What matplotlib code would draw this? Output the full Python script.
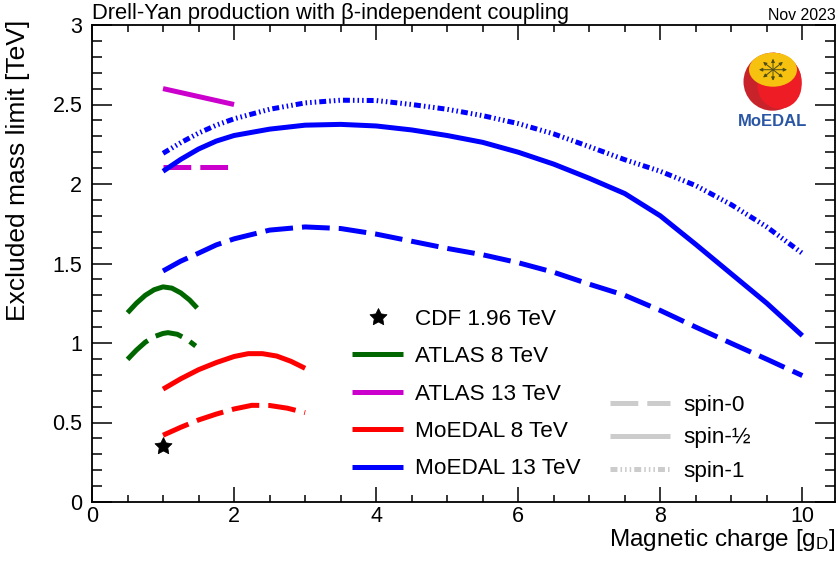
import math
import matplotlib
matplotlib.use("Agg")
import matplotlib.pyplot as plt
from matplotlib.lines import Line2D
from matplotlib.patches import Circle, Ellipse, Wedge

plt.rcParams['font.family'] = ['Liberation Sans', 'DejaVu Sans']
plt.rcParams['mathtext.fontset'] = 'custom'
plt.rcParams['mathtext.rm'] = 'Liberation Sans'
plt.rcParams['mathtext.it'] = 'Liberation Sans:italic'
plt.rcParams['lines.scale_dashes'] = False

# ---- limits [TeV] vs magnetic charge [g_D] ----
cdf_x = [1.0]
cdf_y = [0.35]

atlas8_spin0_x = [0.5, 0.625, 0.75, 0.875, 1.0, 1.07, 1.2, 1.33, 1.46]
atlas8_spin0_y = [0.897, 0.955, 1.005, 1.04, 1.06, 1.065, 1.055, 1.025, 0.981]
atlas8_spin12_x = [0.5, 0.625, 0.75, 0.875, 1.0, 1.125, 1.25, 1.375, 1.48]
atlas8_spin12_y = [1.19, 1.25, 1.30, 1.335, 1.353, 1.345, 1.315, 1.27, 1.22]

atlas13_spin0_x = [1.0, 2.0]
atlas13_spin0_y = [2.105, 2.105]
atlas13_spin12_x = [1.0, 2.0]
atlas13_spin12_y = [2.60, 2.50]

moedal8_spin0_x = [1.0, 1.25, 1.5, 1.75, 2.0, 2.25, 2.5, 2.75, 3.0]
moedal8_spin0_y = [0.42, 0.47, 0.516, 0.553, 0.585, 0.608, 0.607, 0.59, 0.562]
moedal8_spin12_x = [1.0, 1.25, 1.5, 1.75, 2.0, 2.2, 2.4, 2.6, 2.8, 3.0]
moedal8_spin12_y = [0.71, 0.775, 0.832, 0.877, 0.915, 0.933, 0.933, 0.918, 0.885, 0.841]

moedal13_x = [1.0, 1.25, 1.5, 1.75, 2.0, 2.5, 3.0, 3.5, 4.0, 4.5, 5.0,
              5.5, 6.0, 6.5, 7.0, 7.5, 8.0, 8.5, 9.0, 9.5, 10.0]
moedal13_spin0_y = [1.453, 1.515, 1.565, 1.617, 1.655, 1.71, 1.73, 1.72, 1.685,
                    1.64, 1.595, 1.555, 1.505, 1.445, 1.37, 1.30, 1.205, 1.10,
                    0.998, 0.898, 0.795]
moedal13_spin12_y = [2.08, 2.155, 2.22, 2.27, 2.305, 2.345, 2.37, 2.375, 2.365,
                     2.34, 2.305, 2.262, 2.20, 2.125, 2.036, 1.94, 1.80, 1.62,
                     1.435, 1.25, 1.046]
moedal13_spin1_y = [2.193, 2.26, 2.32, 2.37, 2.41, 2.47, 2.51, 2.527, 2.525,
                    2.50, 2.47, 2.43, 2.38, 2.315, 2.235, 2.153, 2.08, 1.99,
                    1.87, 1.73, 1.564]

GREEN = '#006600'
MAGENTA = '#cc00cc'
RED = '#ff0000'
BLUE = '#0000ff'
GREY = '#cccccc'

LW = 3.6
DASH = (0, (20, 6.5))
DASH3DOT = (0, (5, 2.2, 1.1, 2.2, 1.1, 2.2, 1.1, 2.2))

W, H = 838, 562
fig = plt.figure(figsize=(W / 100, H / 100), dpi=100)
L, R, T, B = 92, 835, 25, 502
ax = fig.add_axes([L / W, (H - B) / H, (R - L) / W, (B - T) / H])


def curve(x, y, color, ls):
    ln, = ax.plot(x, y, color=color, lw=LW, linestyle=ls,
                  solid_capstyle='butt', dash_capstyle='butt',
                  solid_joinstyle='round', dash_joinstyle='round')
    return ln


curve(atlas8_spin12_x, atlas8_spin12_y, GREEN, '-')
curve(atlas8_spin0_x, atlas8_spin0_y, GREEN, DASH)
curve(atlas13_spin12_x, atlas13_spin12_y, MAGENTA, '-')
curve(atlas13_spin0_x, atlas13_spin0_y, MAGENTA, DASH)
curve(moedal8_spin12_x, moedal8_spin12_y, RED, '-')
curve(moedal8_spin0_x, moedal8_spin0_y, RED, DASH)
curve(moedal13_x, moedal13_spin12_y, BLUE, '-')
curve(moedal13_x, moedal13_spin0_y, BLUE, DASH)
curve(moedal13_x, moedal13_spin1_y, BLUE, DASH3DOT)
ax.plot(cdf_x, cdf_y, linestyle='none', marker=(5, 1, 0), color='black',
        markersize=13, markeredgewidth=0.5)

ax.set_xlim(0, 10.46)
ax.set_ylim(0, 3)
ax.set_xticks([0, 2, 4, 6, 8, 10])
ax.set_xticks([i * 0.5 for i in range(21)], minor=True)
ax.set_yticks([0, 0.5, 1, 1.5, 2, 2.5, 3])
ax.set_yticklabels(['0', '0.5', '1', '1.5', '2', '2.5', '3'])
ax.set_yticks([i * 0.1 for i in range(31)], minor=True)
for s in ax.spines.values():
    s.set_linewidth(1.3)
ax.tick_params(axis='both', which='both', direction='in', top=True, right=True,
               width=1.1, labelsize=15.5, colors='black')
ax.tick_params(axis='x', which='major', length=10.5, pad=3)
ax.tick_params(axis='x', which='minor', length=5)
ax.tick_params(axis='y', which='major', length=14.5, pad=7)
ax.tick_params(axis='y', which='minor', length=7.2)

ax.set_ylabel('Excluded mass limit [TeV]', fontsize=19, loc='top')
ax.yaxis.set_label_coords(-0.083, 1.01)
ax.set_xlabel(r'Magnetic charge [g$_\mathrm{D}$]', fontsize=17.5, loc='right')
ax.xaxis.set_label_coords(1.0, -44 / (B - T))
ax.xaxis.label.set_verticalalignment('baseline')

fig.text(L / W, 1 - 19 / H, 'Drell-Yan production with β-independent coupling',
         fontsize=15.8, ha='left', va='baseline')
fig.text(836 / W, 1 - 20 / H, 'Nov 2023', fontsize=11.4, ha='right', va='baseline')


# ---- legends (axes-fraction placement) ----
def ax_xy(px, py):
    return (px - L) / (R - L), (B - py) / (B - T)


legend_rows = [
    ('CDF 1.96 TeV', 'black', None),
    ('ATLAS 8 TeV', GREEN, '-'),
    ('ATLAS 13 TeV', MAGENTA, '-'),
    ('MoEDAL 8 TeV', RED, '-'),
    ('MoEDAL 13 TeV', BLUE, '-'),
]
row_y = [317, 354, 391.5, 429, 466.5]
for (label, color, ls), py in zip(legend_rows, row_y):
    x0, y0 = ax_xy(352, py)
    x1, _ = ax_xy(403, py)
    xt, _ = ax_xy(415, py)
    if ls is None:
        xm, _ = ax_xy(377.5, py)
        ax.add_line(Line2D([xm], [y0], transform=ax.transAxes, marker=(5, 1, 0),
                           color='black', markersize=13, markeredgewidth=0.5,
                           linestyle='none'))
    else:
        ax.add_line(Line2D([x0, x1], [y0, y0], transform=ax.transAxes,
                           color=color, lw=LW, solid_capstyle='butt'))
    ax.text(xt, y0, label, transform=ax.transAxes, fontsize=16.2,
            ha='left', va='center_baseline')

spin_rows = [('spin-0', DASH), ('spin-½', '-'), ('spin-1', DASH3DOT)]
spin_y = [402.5, 435.5, 468.5]
for (label, ls), py in zip(spin_rows, spin_y):
    x0, y0 = ax_xy(610, py)
    x1, _ = ax_xy(670, py)
    xt, _ = ax_xy(683, py)
    ax.add_line(Line2D([x0, x1], [y0, y0], transform=ax.transAxes, color=GREY,
                       lw=LW, linestyle=ls, solid_capstyle='butt',
                       dash_capstyle='butt'))
    ax.text(xt, y0, label, transform=ax.transAxes, fontsize=16.2,
            ha='left', va='center_baseline')

# ---- MoEDAL logo ----
lx0, lx1, ly0, ly1 = 730, 815, 45, 135
lax = fig.add_axes([lx0 / W, (H - ly1) / H, (lx1 - lx0) / W, (ly1 - ly0) / H])
lax.set_xlim(lx0, lx1)
lax.set_ylim(ly1, ly0)
lax.axis('off')
cx, cy, r = 772.5, 81.7, 29
lax.add_patch(Circle((cx, cy), r, color='#c8232b', lw=0))
lax.add_patch(Wedge((cx, cy), r, -90, 60, color='#ee1c25', lw=0))
lax.add_patch(Ellipse((cx + 7, cy + 4), 44, 46, color='#ee1c25', lw=0))
ex0, ey0 = cx + 0.5, cy - 12
lax.add_patch(Ellipse((ex0, ey0), 48, 34, color='#f6c20f', lw=0))
for k in range(8):
    a = k * math.pi / 4
    ex, ey = ex0 + 14 * math.cos(a), ey0 + 11 * math.sin(a)
    lax.annotate('', xy=(ex, ey), xytext=(ex0, ey0),
                 arrowprops=dict(arrowstyle='-|>', color='#4d4d1a', lw=0.7,
                                 mutation_scale=5, shrinkA=0, shrinkB=0))
lax.text(cx + 0.5, 122, 'MoEDAL', fontsize=12, fontweight='bold',
         color='#2a56a4', ha='center', va='center')

fig.savefig('out.png', dpi=100)
